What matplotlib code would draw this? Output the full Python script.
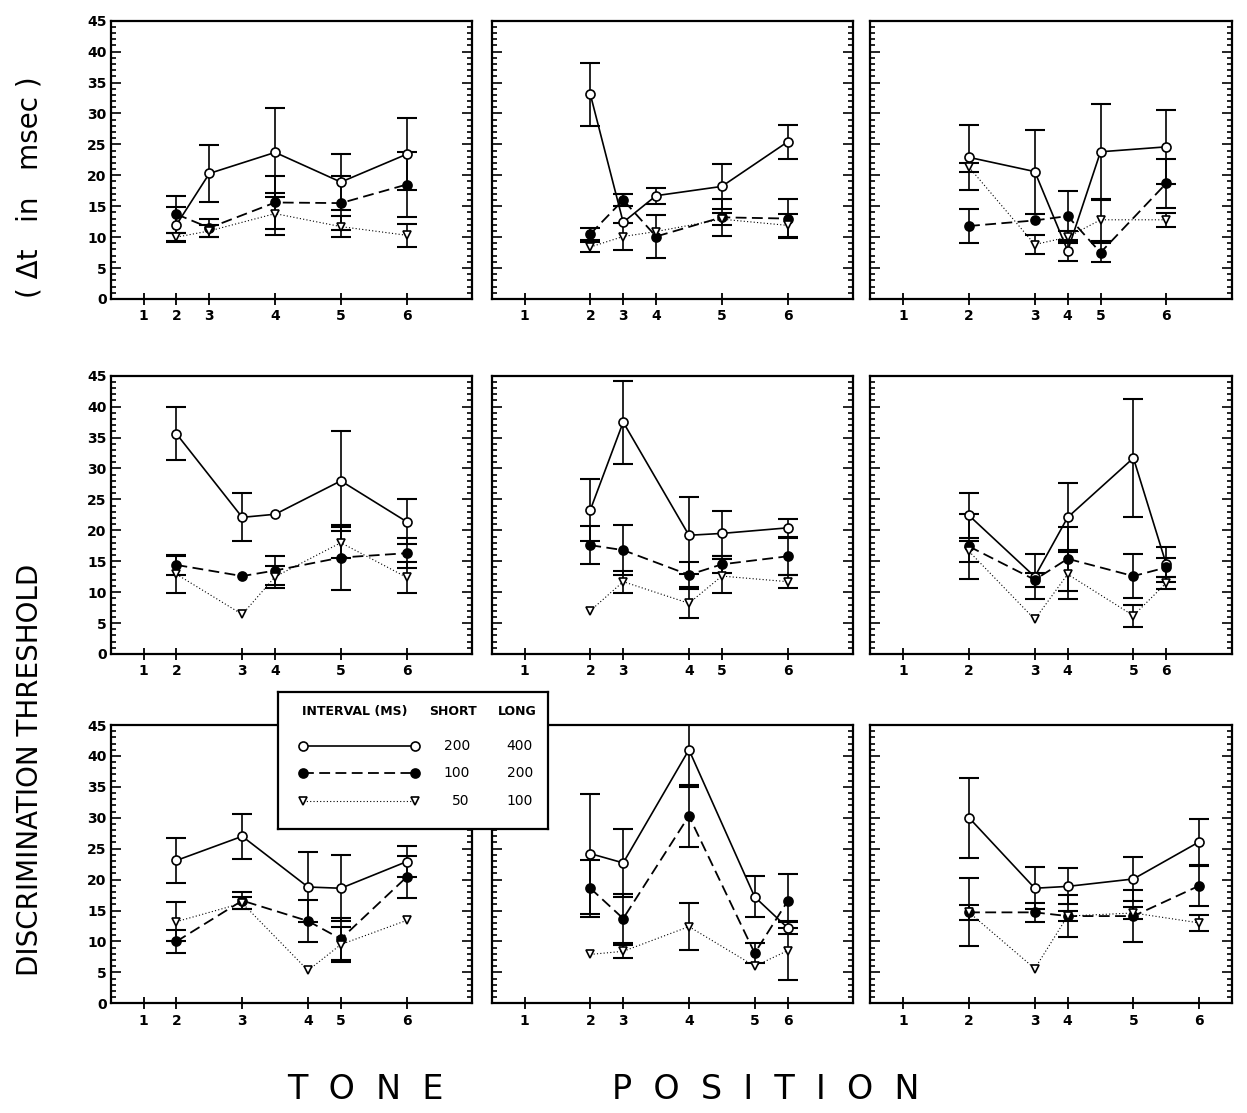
import numpy as np
import matplotlib
matplotlib.use("Agg")
import matplotlib.pyplot as plt
from matplotlib.ticker import MultipleLocator

# tone positions 1..6 sit on a time axis, so spacing differs per panel
tone_labels = ["1", "2", "3", "4", "5", "6"]
tone_x = [
    [1, 2, 3, 5, 7, 9],
    [1, 3, 4, 5, 7, 9],
    [1, 3, 5, 6, 7, 9],
    [1, 2, 4, 5, 7, 9],
    [1, 3, 4, 6, 7, 9],
    [1, 3, 5, 6, 8, 9],
    [1, 2, 4, 6, 7, 9],
    [1, 3, 4, 6, 8, 9],
    [1, 3, 5, 6, 8, 10],
]

# thresholds (msec) for tone positions 2..6, 0 error = no bar drawn
open_y = [
    [12.0, 20.3, 23.7, 18.9, 23.4],
    [33.1, 12.4, 16.7, 18.2, 25.4],
    [22.9, 20.6, 7.8, 23.8, 24.6],
    [35.6, 22.1, 22.6, 28.0, 21.4],
    [23.3, 37.5, 19.2, 19.5, 20.4],
    [22.4, 12.5, 22.1, 31.7, 14.5],
    [23.1, 27.0, 18.8, 18.6, 22.9],
    [24.2, 22.7, 41.0, 17.2, 12.2],
    [30.0, 18.6, 18.9, 20.1, 26.1],
]
open_err = [
    [2.8, 4.6, 7.2, 4.5, 5.8],
    [5.1, 0, 1.3, 3.6, 2.7],
    [5.2, 6.8, 1.7, 7.8, 6.0],
    [4.3, 3.9, 0, 8.1, 3.6],
    [5.0, 6.7, 6.2, 3.7, 1.4],
    [3.6, 3.6, 5.6, 9.6, 2.8],
    [3.7, 3.6, 5.7, 5.3, 2.5],
    [9.7, 5.5, 6.0, 3.3, 1.0],
    [6.5, 3.4, 2.9, 3.6, 3.7],
]
filled_y = [
    [13.7, 11.5, 15.6, 15.5, 18.5],
    [10.5, 16.0, 10.1, 13.2, 13.0],
    [11.8, 12.7, 13.4, 7.5, 18.7],
    [14.4, 12.6, 13.5, 15.6, 16.3],
    [17.6, 16.8, 12.8, 14.5, 15.8],
    [17.4, 12.0, 15.4, 12.6, 14.0],
    [10.0, 16.6, 13.3, 10.4, 20.4],
    [18.6, 13.7, 30.3, 8.1, 16.5],
    [14.7, 14.7, 14.1, 14.1, 19.0],
]
filled_err = [
    [3.0, 1.5, 4.3, 4.4, 5.3],
    [1.0, 1.0, 3.5, 3.0, 3.1],
    [2.7, 0, 4.0, 1.6, 4.0],
    [1.6, 0, 2.3, 5.2, 2.4],
    [3.1, 4.0, 2.0, 1.4, 3.0],
    [5.2, 1.1, 5.2, 3.5, 1.5],
    [1.8, 1.4, 3.4, 3.4, 3.4],
    [4.6, 3.9, 5.0, 1.6, 4.4],
    [5.5, 1.5, 3.4, 4.2, 3.2],
]
tri_y = [
    [10.0, 11.0, 13.8, 11.7, 10.3],
    [8.4, 10.1, 10.9, 12.9, 11.9],
    [21.3, 8.8, 10.0, 12.8, 12.8],
    [12.9, 6.4, 12.5, 18.0, 12.4],
    [7.0, 11.7, 8.2, 12.6, 11.7],
    [16.6, 5.6, 12.9, 6.2, 11.5],
    [13.2, 16.2, 5.3, 9.5, 13.4],
    [7.9, 8.4, 12.4, 6.0, 8.5],
    [14.7, 5.6, 14.1, 14.6, 13.0],
]
tri_err = [
    [0.6, 1.0, 3.4, 1.7, 1.9],
    [0.8, 2.2, 0, 1.0, 1.9],
    [0.7, 1.6, 1.0, 3.4, 1.1],
    [3.0, 0, 1.8, 2.5, 2.5],
    [0, 1.8, 2.3, 2.7, 1.0],
    [1.7, 0, 4.0, 1.8, 1.0],
    [3.1, 1.0, 0, 2.9, 0],
    [0, 1.0, 3.8, 0, 4.8],
    [1.2, 0, 0.8, 1.0, 1.3],
]

legend_title = ["INTERVAL (MS)", "SHORT", "LONG"]
legend_short = ["200", "100", "50"]
legend_long = ["400", "200", "100"]

# marker, face colour, linestyle, linewidth
styles = [
    ("o", "white", "-", 1.2),
    ("o", "black", (0, (6, 3)), 1.3),
    ("v", "white", (0, (1, 2)), 0.8),
]

fig = plt.figure(figsize=(12.47, 11.13), dpi=100)

col_left = [0.0888, 0.3943, 0.698]
row_bottom = [0.7314, 0.4124, 0.0986]
ax_w = 0.29
ax_h = 0.25

for k in range(9):
    r, c = divmod(k, 3)
    ax = fig.add_axes([col_left[c], row_bottom[r], ax_w, ax_h])
    xs = np.array(tone_x[k][1:])
    series = [(open_y[k], open_err[k]), (filled_y[k], filled_err[k]), (tri_y[k], tri_err[k])]
    for (vals, errs), (mk, mfc, ls, lw) in zip(series, styles):
        vals = np.array(vals)
        errs = np.array(errs)
        m = errs > 0
        ax.errorbar(xs[m], vals[m], yerr=errs[m], fmt="none", ecolor="black",
                    elinewidth=1.2, capsize=7, capthick=1.5, zorder=2)
        ax.plot(xs, vals, color="black", linestyle=ls, linewidth=lw, marker=mk,
                markerfacecolor=mfc, markeredgecolor="black", markeredgewidth=1.2,
                markersize=6.5 if mk == "o" else 6, zorder=3)

    ax.set_xlim(0, 11)
    ax.set_ylim(0, 45)
    ax.set_xticks(tone_x[k])
    ax.set_xticklabels(tone_labels, fontsize=10, fontweight="bold")
    ax.yaxis.set_major_locator(MultipleLocator(5))
    ax.yaxis.set_minor_locator(MultipleLocator(1))
    ax.tick_params(axis="y", which="both", direction="in", left=True, right=True, width=1.2)
    ax.tick_params(axis="y", which="major", length=7)
    ax.tick_params(axis="y", which="minor", length=3.5)
    ax.tick_params(axis="x", direction="inout", length=9, width=1.3, pad=3)
    if c == 0:
        ax.tick_params(axis="y", labelsize=10, pad=3)
        for t in ax.get_yticklabels():
            t.set_fontweight("bold")
    else:
        ax.set_yticklabels([])
    for s in ax.spines.values():
        s.set_linewidth(1.6)

# legend box
lg = fig.add_axes([0.2229, 0.2552, 0.2165, 0.1231], zorder=10)
lg.set_facecolor("white")
lg.set_xlim(0, 1)
lg.set_ylim(0, 1)
lg.set_xticks([])
lg.set_yticks([])
for s in lg.spines.values():
    s.set_linewidth(1.6)
lg.text(0.089, 0.854, legend_title[0], fontsize=9, fontweight="bold", va="center", ha="left")
lg.text(0.648, 0.854, legend_title[1], fontsize=9, fontweight="bold", va="center", ha="center")
lg.text(0.885, 0.854, legend_title[2], fontsize=9, fontweight="bold", va="center", ha="center")
row_y = [0.606, 0.409, 0.204]
for (mk, mfc, ls, lw), yy, s_txt, l_txt in zip(styles, row_y, legend_short, legend_long):
    lg.plot([0.093, 0.507], [yy, yy], color="black", linestyle=ls, linewidth=lw, marker=mk,
            markerfacecolor=mfc, markeredgecolor="black", markeredgewidth=1.2,
            markersize=6.5 if mk == "o" else 6)
    lg.text(0.711, yy, s_txt, fontsize=10, ha="right", va="center")
    lg.text(0.944, yy, l_txt, fontsize=10, ha="right", va="center")

# axis titles
fig.text(0.024, 0.308, "DISCRIMINATION THRESHOLD", rotation=90, fontsize=20,
         ha="center", va="center")
fig.text(0.024, 0.832, "( Δt   in   msec )", rotation=90, fontsize=20,
         ha="center", va="center")
fig.text(0.293, 0.021, "T  O  N  E", fontsize=24, ha="center", va="center")
fig.text(0.614, 0.021, "P  O  S  I  T  I  O  N", fontsize=24, ha="center", va="center")

fig.savefig("out.png", dpi=100)
